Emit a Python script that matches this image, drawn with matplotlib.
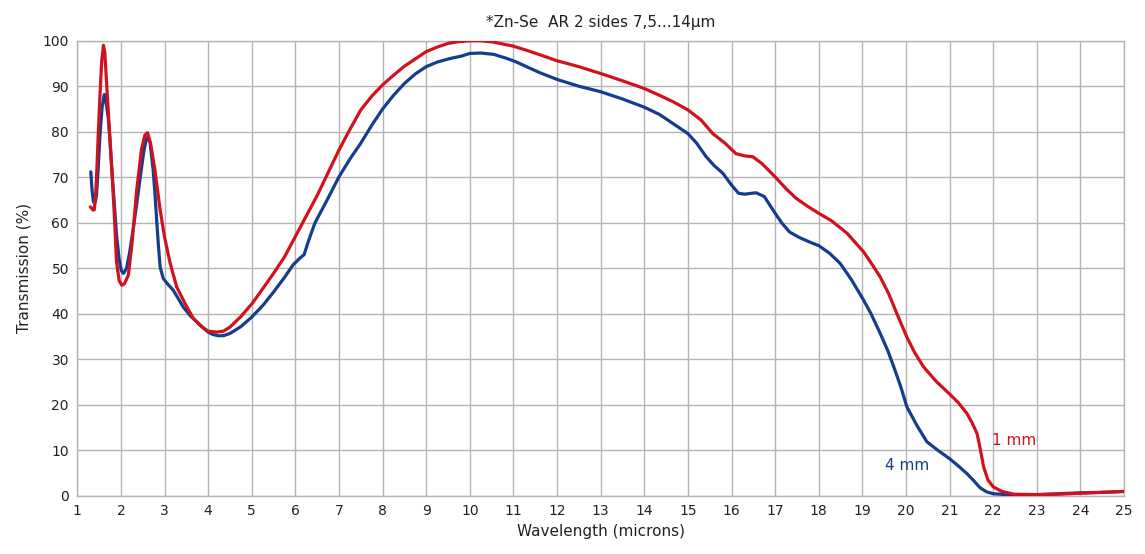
import matplotlib
matplotlib.use("Agg")
from matplotlib import pyplot as plt

# wavelength (microns) / transmission (%)
wl_4mm = [1.31, 1.34, 1.37, 1.41, 1.44, 1.48, 1.52, 1.57, 1.62, 1.66, 1.71, 1.75, 1.79, 1.85, 1.9,
          1.96, 2.01, 2.06, 2.13, 2.2, 2.28, 2.36, 2.45, 2.53, 2.58, 2.62, 2.67, 2.74, 2.78, 2.82,
          2.86, 2.9, 2.97, 3.05, 3.2, 3.3, 3.43, 3.6, 3.81, 4.0, 4.1, 4.23, 4.35, 4.5, 4.75, 5.0,
          5.25, 5.5, 5.75, 5.95, 6.1, 6.2, 6.3, 6.45, 6.7, 7.0, 7.25, 7.5, 7.75, 8.0, 8.25,
          8.5, 8.75, 9.0, 9.25, 9.55, 9.8, 10.0, 10.25, 10.55, 10.85, 11.05, 11.3, 11.6, 12.0,
          12.5, 13.0, 13.5, 14.0, 14.35, 14.66, 15.0, 15.2, 15.42, 15.6, 15.8, 16.0, 16.16,
          16.3, 16.56, 16.75, 17.0, 17.15, 17.33, 17.55, 17.86, 18.0, 18.25, 18.49, 18.75,
          19.03, 19.2, 19.41, 19.58, 19.72, 19.88, 20.02, 20.25, 20.48, 20.75, 21.0, 21.2,
          21.4, 21.55, 21.7, 21.85, 22.0, 22.3, 22.6, 23.0, 23.5, 24.0, 24.5, 25.0]
tr_4mm = [71.2, 67.0, 64.6, 64.5, 66.0, 72.0, 79.3, 85.5, 88.2, 86.5, 83.0, 78.0, 72.0, 64.0, 57.3,
          52.0, 49.5, 48.9, 50.0, 53.5, 58.5, 64.0, 70.5, 76.0, 78.3, 78.9, 77.5, 71.6, 66.5, 60.6,
          55.0, 50.3, 47.8, 46.8, 45.2, 43.6, 41.5, 39.5, 37.6, 36.0, 35.5, 35.2, 35.2, 35.7, 37.2, 39.3,
          41.8, 44.8, 48.0, 50.8, 52.2, 53.0, 56.0, 60.0, 64.5, 70.1, 74.0, 77.5, 81.4, 85.0, 88.0,
          90.6, 92.7, 94.3, 95.3, 96.1, 96.6, 97.2, 97.3, 97.0, 96.1, 95.4, 94.3, 93.0, 91.5,
          90.0, 88.8, 87.2, 85.4, 83.8, 81.8, 79.6, 77.5, 74.5, 72.6, 70.9, 68.3, 66.5,
          66.3, 66.6, 65.8, 62.1, 60.0, 58.0, 56.8, 55.5, 55.0, 53.3, 51.1, 47.5,
          43.0, 40.0, 35.7, 32.0, 28.4, 24.0, 19.6, 15.5, 11.9, 9.9, 8.2, 6.6,
          4.9, 3.4, 1.8, 0.9, 0.5, 0.3, 0.3, 0.3, 0.5, 0.7, 0.8, 1.0]

wl_1mm = [1.3, 1.33, 1.36, 1.39, 1.42, 1.45, 1.48, 1.52, 1.56, 1.6, 1.63, 1.67, 1.72, 1.79, 1.85,
          1.9, 1.96, 2.02, 2.08, 2.17, 2.25, 2.36, 2.47, 2.55, 2.61, 2.68, 2.78, 2.9, 3.0, 3.13,
          3.28, 3.47, 3.66, 3.85, 4.0, 4.2, 4.35, 4.5, 4.75, 5.01, 5.25, 5.5, 5.75,
          6.0, 6.25, 6.5, 6.75, 7.0, 7.25, 7.5, 7.75, 8.0, 8.25, 8.5, 8.75, 9.0, 9.25, 9.5, 9.75,
          10.0, 10.25, 10.54, 11.0, 11.3, 11.61, 12.0, 12.5, 13.0, 13.5, 14.0, 14.35, 14.66,
          15.0, 15.3, 15.57, 15.85, 16.1, 16.3, 16.49, 16.7, 17.0, 17.25, 17.48, 17.75, 18.0,
          18.3, 18.65, 19.03, 19.2, 19.41, 19.6, 19.79, 20.02, 20.2, 20.4, 20.7, 21.0, 21.2,
          21.4, 21.52, 21.63, 21.7, 21.78, 21.88, 22.0, 22.2, 22.47, 23.0, 23.5, 24.0, 24.5, 25.0]
tr_1mm = [63.5, 63.2, 62.8, 62.9, 66.0, 72.0, 79.3, 88.0, 95.5, 99.0, 97.5, 91.0, 83.0, 72.0, 61.5,
          51.4, 47.3, 46.3, 46.6, 48.5, 55.0, 67.0, 76.0, 79.3, 79.8, 77.5, 71.6, 62.8, 56.9, 51.1,
          45.9, 42.3, 39.0, 37.2, 36.2, 36.0, 36.2, 37.1, 39.4, 42.3, 45.5, 48.9, 52.5,
          57.0, 61.5, 66.0, 71.0, 76.0, 80.5, 84.8, 87.8, 90.3, 92.4, 94.4, 96.0, 97.6, 98.6, 99.4, 99.8,
          100.0, 100.0, 99.7, 98.8, 97.9, 96.9, 95.6, 94.3, 92.8, 91.2, 89.5, 88.0, 86.6,
          84.8, 82.6, 79.6, 77.5, 75.2, 74.7, 74.5, 73.0, 70.1, 67.5, 65.4, 63.6, 62.1,
          60.4, 57.7, 53.6, 51.2, 48.1, 44.5, 40.1, 34.9, 31.5, 28.4, 25.1, 22.4, 20.5,
          18.1, 16.0, 13.7, 10.5, 6.4, 3.5, 2.0, 1.0, 0.4, 0.3, 0.4, 0.6, 0.8, 1.0]

label_4mm = "4 mm"
label_1mm = "1 mm"
title = "*Zn-Se  AR 2 sides 7,5...14\u00b5m"

red = "#d2101e"
blue = "#143e8d"
grid_gray = "#b4b4b4"

plt.rcParams['font.family'] = ['DejaVu Sans']

fig = plt.figure(figsize=(11.45, 5.54), dpi=100)
ax = fig.add_axes([0.0675, 0.1047, 0.9142, 0.8218])

ax.plot(wl_4mm, tr_4mm, color=blue, lw=2.3, solid_capstyle='round', solid_joinstyle='round', zorder=3)
ax.plot(wl_1mm, tr_1mm, color=red, lw=2.3, solid_capstyle='round', solid_joinstyle='round', zorder=4)

ax.text(20.03, 6.8, label_4mm, color=blue, fontsize=11, ha='center', va='center')
ax.text(22.47, 12.2, label_1mm, color=red, fontsize=11, ha='center', va='center')

ax.set_xlim(1, 25)
ax.set_ylim(0, 100)
ax.set_xticks(range(1, 26))
ax.set_yticks(range(0, 101, 10))
ax.tick_params(length=0, labelsize=10, labelcolor='#222222', pad=6)
ax.grid(True, color=grid_gray, lw=1.0)
ax.set_axisbelow(True)
for s in ax.spines.values():
    s.set_color(grid_gray)
    s.set_linewidth(1.0)

ax.set_xlabel("Wavelength (microns)", fontsize=11, color='#222222', labelpad=4)
ax.set_ylabel("Transmission (%)", fontsize=11, color='#222222', labelpad=8)
ax.set_title(title, fontsize=11, color='#222222', pad=10)

fig.savefig("out.png", dpi=100)
